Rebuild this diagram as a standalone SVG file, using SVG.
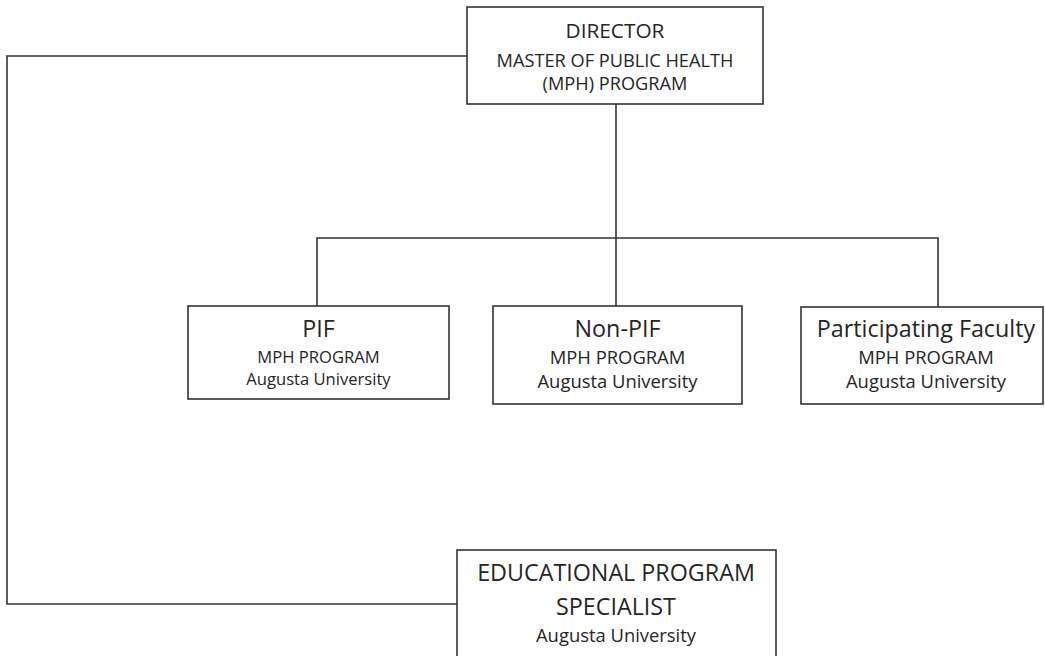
<svg xmlns="http://www.w3.org/2000/svg" width="1045" height="656" viewBox="0 0 1045 656">
<style>
.box{fill:#fff;stroke:#333;stroke-width:1.6}
.ln{fill:none;stroke:#333;stroke-width:1.6}
text{font-family:"Open Sans","Liberation Sans",sans-serif;fill:#262626;text-anchor:middle}
.t1{font-size:20.8px}
.t2{font-size:23.3px}
.s1{font-size:18.2px}
.s2{font-size:18.4px}
.s3{font-size:16.6px}
</style>
<rect width="1045" height="656" fill="#fff"/>
<g id="connectors">
<path class="ln" d="M616 104V306"/>
<path class="ln" d="M317 306V238H938V307"/>
<path class="ln" d="M467 56H7V604H457"/>
</g>
<g id="director">
<rect class="box" x="467" y="7" width="296" height="97"/>
<text class="t1" x="615" y="38">DIRECTOR</text>
<text class="s1" x="615" y="67">MASTER OF PUBLIC HEALTH</text>
<text class="s1" x="615" y="90">(MPH) PROGRAM</text>
</g>
<g id="pif">
<rect class="box" x="188" y="306" width="261" height="93"/>
<text class="t2" x="318.5" y="337">PIF</text>
<text class="s3" x="318.5" y="363">MPH PROGRAM</text>
<text class="s3" x="318.5" y="385">Augusta University</text>
</g>
<g id="nonpif">
<rect class="box" x="493" y="306" width="249" height="98"/>
<text class="t2" x="617.5" y="337">Non-PIF</text>
<text class="s2" x="617.5" y="364">MPH PROGRAM</text>
<text class="s2" x="617.5" y="388">Augusta University</text>
</g>
<g id="participating">
<rect class="box" x="801" y="307" width="242" height="97"/>
<text class="t2" x="926" y="337">Participating Faculty</text>
<text class="s2" x="926" y="364">MPH PROGRAM</text>
<text class="s2" x="926" y="388">Augusta University</text>
</g>
<g id="specialist">
<rect class="box" x="457" y="550" width="319" height="120"/>
<text class="t2" x="616" y="581">EDUCATIONAL PROGRAM</text>
<text class="t2" x="616" y="615">SPECIALIST</text>
<text class="s2" x="616" y="642">Augusta University</text>
</g>
</svg>
